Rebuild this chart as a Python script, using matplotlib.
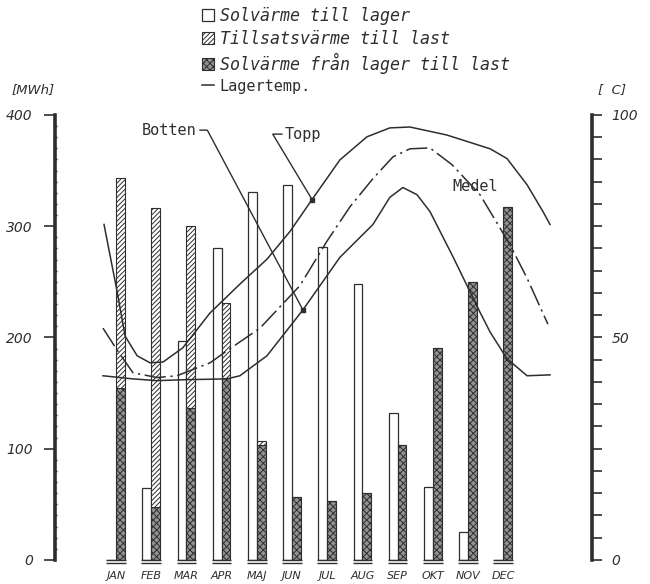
import matplotlib.pyplot as plt
import numpy as np
from matplotlib.patches import Patch
from matplotlib.lines import Line2D
from matplotlib.ticker import MultipleLocator, FuncFormatter

plt.rcParams["hatch.linewidth"] = 0.7

months = ["JAN", "FEB", "MAR", "APR", "MAJ", "JUN", "JUL", "AUG", "SEP", "OKT", "NOV", "DEC"]
# MWh per month
sol_till_lager = [0, 65, 197, 280, 331, 337, 281, 248, 132, 66, 25, 0]
sol_fran_lager = [155, 48, 137, 164, 103, 57, 53, 60, 103, 191, 250, 317]
tillsats = [188, 268, 163, 67, 4, 0, 0, 0, 0, 0, 0, 0]

# Lagertemp [C], x in month units (0 = JAN)
topp_x = [-0.34, 0.03, 0.26, 0.60, 0.97, 1.34, 1.90, 2.67, 3.52, 4.29, 4.94, 5.57,
          6.36, 7.13, 7.78, 8.35, 9.40, 10.63, 11.11, 11.68, 12.13, 12.33]
topp_t = [75.4, 60.4, 50.3, 45.9, 44.3, 44.5, 47.7, 55.5, 62.0, 67.6, 73.8, 81.0,
          89.9, 95.1, 97.1, 97.3, 95.5, 92.4, 90.2, 84.3, 78.3, 75.4]
medel_x = [-0.37, 0.03, 0.48, 1.16, 1.73, 2.67, 3.15, 4.09, 5.23, 5.99, 6.65, 7.30,
           7.87, 8.35, 8.92, 9.55, 10.34, 11.19, 11.68, 12.27]
medel_t = [52.1, 47.2, 42.1, 41.0, 41.4, 44.3, 47.0, 52.1, 61.7, 71.6, 79.4, 85.7,
           90.6, 92.4, 92.6, 88.8, 82.1, 70.9, 63.3, 53.0]
botten_x = [-0.37, 0.48, 1.16, 1.90, 3.15, 3.52, 4.29, 5.31, 6.36, 7.30, 7.78, 8.15,
            8.55, 8.92, 9.57, 10.34, 10.63, 11.11, 11.68, 12.33]
botten_t = [41.4, 40.7, 40.3, 40.5, 40.7, 41.4, 45.9, 56.2, 68.0, 75.4, 81.5, 83.7,
            82.1, 78.3, 68.2, 55.7, 51.2, 45.2, 41.4, 41.6]

ink = "#2e2e2e"
x = np.arange(len(months))
w = 0.25

fig = plt.figure(figsize=(6.5, 5.84), dpi=100)
ax = fig.add_axes([0.0846, 0.0411, 0.826, 0.762])
ax2 = ax.twinx()

ax.bar(x - w / 2, sol_till_lager, w, color="white", edgecolor=ink, lw=0.9)
ax.bar(x + w / 2, sol_fran_lager, w, color="#929292", edgecolor=ink, hatch="xxxxx", lw=0.8)
ax.bar(x + w / 2, tillsats, w, bottom=sol_fran_lager, color="white", edgecolor=ink,
       hatch="///////", lw=0.8)
for y0 in (0, -2.8):
    ax.hlines(np.full(len(x), y0), x - 0.28, x + 0.28, color=ink, lw=1.0, clip_on=False)

ax.set_xlim(-1.733, 13.52)
ax.set_ylim(0, 400)
ax2.set_ylim(0, 100)

ax2.plot(topp_x, topp_t, color=ink, lw=1.1)
ax2.plot(medel_x, medel_t, color=ink, lw=1.1, dashes=(14, 3, 1.5, 3))
ax2.plot(botten_x, botten_t, color=ink, lw=1.1)
ax2.plot([topp_x[11], botten_x[7]], [topp_t[11], botten_t[7]], "s", color=ink, ms=3)

mono = "DejaVu Sans Mono"
ax2.annotate("Botten", xy=(botten_x[7], botten_t[7]), xytext=(2.30, 96.6),
             ha="right", va="center", family=mono, fontsize=11, color=ink,
             arrowprops=dict(arrowstyle="-", color=ink, lw=1.0, shrinkA=0, shrinkB=0,
                             connectionstyle="angle,angleA=0,angleB=118,rad=0"))
ax2.annotate("Topp", xy=(topp_x[11], topp_t[11]), xytext=(4.80, 95.7),
             ha="left", va="center", family=mono, fontsize=11, color=ink,
             arrowprops=dict(arrowstyle="-", color=ink, lw=1.0, shrinkA=0, shrinkB=0,
                             connectionstyle="angle,angleA=0,angleB=121,rad=0"))
ax2.text(9.55, 83.9, "Medel", ha="left", va="center", family=mono, fontsize=11, color=ink)

for a in (ax, ax2):
    for s in ("top", "bottom"):
        a.spines[s].set_visible(False)
ax.spines["right"].set_visible(False)
ax2.spines["left"].set_visible(False)
ax.spines["left"].set_linewidth(2.6)
ax.spines["left"].set_color(ink)
ax2.spines["right"].set_linewidth(2.6)
ax2.spines["right"].set_color(ink)

ax.set_xticks(x)
ax.set_xticklabels(months, style="italic", fontsize=8, color=ink)
ax.tick_params(axis="x", length=0, pad=8)

ax.yaxis.set_major_locator(MultipleLocator(100))
ax.yaxis.set_minor_locator(MultipleLocator(10))
ax.tick_params(axis="y", which="major", length=8, width=1.2, color=ink, pad=8,
               labelsize=10, labelcolor=ink)
ax.tick_params(axis="y", which="minor", length=3, width=1.0, color=ink, direction="inout")
for t in ax.get_yticklabels():
    t.set_style("italic")

ax2.yaxis.set_major_locator(MultipleLocator(5))
ax2.yaxis.set_major_formatter(FuncFormatter(lambda v, p: f"{v:.0f}" if v % 50 == 0 else ""))
ax2.tick_params(axis="y", length=7, width=1.2, color=ink, pad=7, labelsize=10,
                labelcolor=ink)
for t in ax2.get_yticklabels():
    t.set_style("italic")

fig.text(0.018, 0.846, "[MWh]", style="italic", fontsize=9.5, color=ink, va="center")
fig.text(0.92, 0.846, "[  C]", style="italic", fontsize=9.5, color=ink, va="center")

handles = [
    Patch(facecolor="white", edgecolor=ink, lw=0.9),
    Patch(facecolor="white", edgecolor=ink, hatch="///////", lw=0.8),
    Patch(facecolor="#929292", edgecolor=ink, hatch="xxxxx", lw=0.8),
    Line2D([], [], color=ink, lw=1.1),
]
labels = ["Solvärme till lager", "Tillsatsvärme till last",
          "Solvärme från lager till last", "Lagertemp."]
leg = fig.legend(handles, labels, loc="upper left", bbox_to_anchor=(0.31, 0.988),
                 frameon=False, borderpad=0, borderaxespad=0, handlelength=0.75,
                 handleheight=0.75, handletextpad=0.35, labelspacing=0.3,
                 prop=dict(family=mono, style="italic", size=12))
for t in leg.get_texts():
    t.set_color(ink)
leg.get_texts()[3].set_style("normal")
leg.get_texts()[3].set_fontsize(11)

fig.savefig("out.png", dpi=100, facecolor="white")
